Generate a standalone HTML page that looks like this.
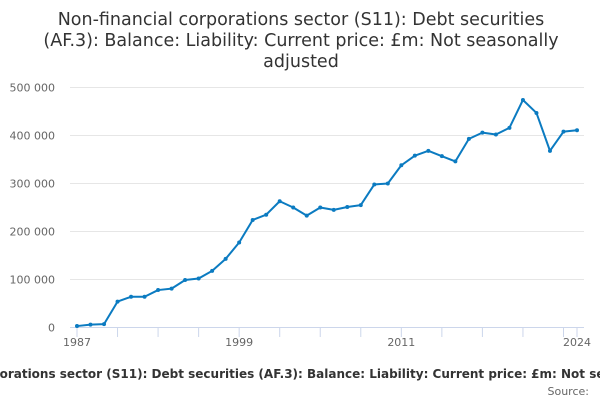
<!DOCTYPE html>
<html><head><meta charset="utf-8"><style>
body{margin:0;background:#fff;width:600px;height:400px;overflow:hidden;font-family:"DejaVu Sans","Liberation Sans",sans-serif;}
</style></head><body>
<svg width="600" height="400" xmlns="http://www.w3.org/2000/svg" style="font-family:'DejaVu Sans','Liberation Sans',sans-serif">
<g font-size="17.5" fill="#333" text-anchor="middle">
<text x="301" y="25">Non-financial corporations sector (S11): Debt securities</text>
<text x="301" y="46">(AF.3): Balance: Liability: Current price: £m: Not seasonally</text>
<text x="301" y="67">adjusted</text>
</g>
<g id="grid"></g>
<g id="yticks" font-size="11" fill="#666" text-anchor="end"></g>
<line x1="70" x2="584" y1="327.5" y2="327.5" stroke="#ccd6eb"/>
<g id="xticks"></g>
<g id="xlabels" font-size="11" fill="#666" text-anchor="middle"></g>
<path id="line" fill="none" stroke="#0b7bc1" stroke-width="2" stroke-linejoin="round"/>
<g id="pts" fill="#0b7bc1"></g>
<text x="300" y="378" font-size="12" font-weight="bold" fill="#333" text-anchor="middle">Non-financial corporations sector (S11): Debt securities (AF.3): Balance: Liability: Current price: £m: Not seasonally adjusted</text>
<text x="589" y="395" font-size="11" fill="#666" text-anchor="end">Source:</text>
</svg>
<script>
const years=[1987,1988,1989,1990,1991,1992,1993,1994,1995,1996,1997,1998,1999,2000,2001,2002,2003,2004,2005,2006,2007,2008,2009,2010,2011,2012,2013,2014,2015,2016,2017,2018,2019,2020,2021,2022,2023,2024];
const values=[3000,6000,7000,54000,64000,64000,78000,81000,99000,102000,118000,143000,177000,224000,235000,263000,250000,233000,250000,245000,251000,255000,298000,300000,338000,358000,368000,357000,346000,393000,406000,402000,416000,474000,447000,368000,408000,411000];
const yTicks=[0,100000,200000,300000,400000,500000];
const yTickLabels=["0","100 000","200 000","300 000","400 000","500 000"];
const xLabelYears=[1987,1999,2011,2024];
const NS="http://www.w3.org/2000/svg";
const X=y=>77+(y-1987)*(500/37);
const Y=v=>327.5-v*240/500000;
const grid=document.getElementById('grid'),yt=document.getElementById('yticks');
yTicks.forEach((t,i)=>{
  if(t>0){const l=document.createElementNS(NS,'line');
  l.setAttribute('x1',70);l.setAttribute('x2',584);l.setAttribute('y1',Y(t));l.setAttribute('y2',Y(t));l.setAttribute('stroke','#e6e6e6');
  
  
  grid.appendChild(l);}
  const tx=document.createElementNS(NS,'text');
  tx.setAttribute('x',55);tx.setAttribute('y',Y(t)+4);tx.textContent=yTickLabels[i];
  
  
  yt.appendChild(tx);
});
const xt=document.getElementById('xticks');
for(let y=1987;y<=2024;y+=3){
  const l=document.createElementNS(NS,'line');
  l.setAttribute('x1',X(y));l.setAttribute('x2',X(y));l.setAttribute('y1',327.5);l.setAttribute('y2',337);l.setAttribute('stroke','#ccd6eb');
  
  
  xt.appendChild(l);
}
{const l=document.createElementNS(NS,'line');
l.setAttribute('x1',X(2024));l.setAttribute('x2',X(2024));l.setAttribute('y1',327.5);l.setAttribute('y2',337);l.setAttribute('stroke','#ccd6eb');


xt.appendChild(l);}
const xl=document.getElementById('xlabels');
xLabelYears.forEach(y=>{
  const tx=document.createElementNS(NS,'text');
  tx.setAttribute('x',X(y));tx.setAttribute('y',346);tx.textContent=y;
  
  
  xl.appendChild(tx);
});
let d='';const pts=document.getElementById('pts');
years.forEach((y,i)=>{
  d+=(i?'L':'M')+X(y)+' '+Y(values[i]);
  const c=document.createElementNS(NS,'circle');
  c.setAttribute('cx',X(y));c.setAttribute('cy',Y(values[i]));c.setAttribute('r',2);
  
  
  pts.appendChild(c);
});
document.getElementById('line').setAttribute('d',d);
</script>
</body></html>
